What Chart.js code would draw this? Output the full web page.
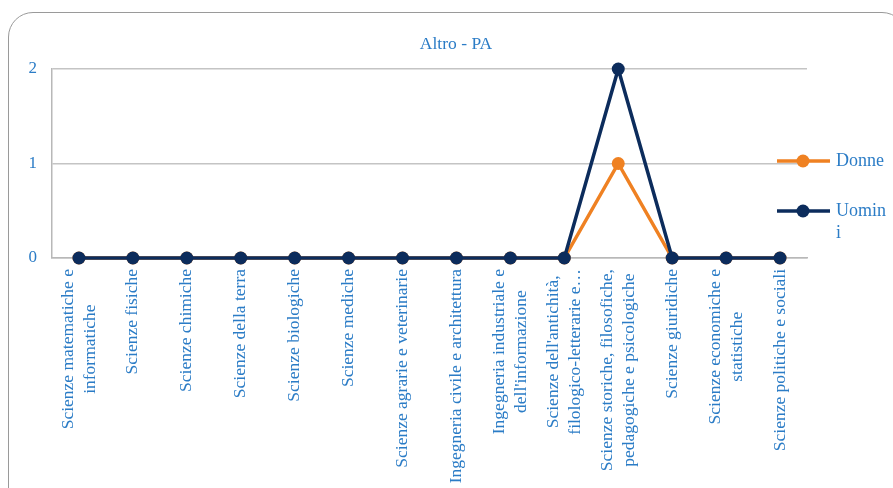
<!DOCTYPE html>
<html>
<head>
<meta charset="utf-8">
<script src="https://cdn.jsdelivr.net/npm/chart.js@4/dist/chart.umd.min.js"></script>
<style>
  html, body { margin: 0; padding: 0; background: #fff; overflow: hidden; }
  #wrap { position: relative; width: 893px; height: 488px; }
  #frame {
    position: absolute; left: 8px; top: 12px; width: 899px; height: 520px;
    border: 1px solid #9a9a9a; border-radius: 25px; box-sizing: border-box;
  }
  canvas { position: absolute; left: 0; top: 0; }
</style>
</head>
<body>
<div id="wrap">
  <div id="frame"></div>
  <canvas id="chart" width="893" height="488"></canvas>
</div>
<script>
// Categories (multi-line entries are drawn as stacked lines)
const categories = [
  ["Scienze matematiche e", "informatiche"],
  ["Scienze fisiche"],
  ["Scienze chimiche"],
  ["Scienze della terra"],
  ["Scienze biologiche"],
  ["Scienze mediche"],
  ["Scienze agrarie e veterinarie"],
  ["Ingegneria civile e architettura"],
  ["Ingegneria industriale e", "dell'informazione"],
  ["Scienze dell'antichità,", "filologico-letterarie e…"],
  ["Scienze storiche, filosofiche,", "pedagogiche e psicologiche"],
  ["Scienze giuridiche"],
  ["Scienze economiche e", "statistiche"],
  ["Scienze politiche e sociali"]
];
const donne  = [0, 0, 0, 0, 0, 0, 0, 0, 0, 0, 1, 0, 0, 0];
const uomini = [0, 0, 0, 0, 0, 0, 0, 0, 0, 0, 2, 0, 0, 0];
const yTicks = [0, 1, 2];
const seriesNames = ["Donne", ["Uomin", "i"]];
const chartTitle = "Altro - PA";

const TEXT_BLUE = "#2b7cc6";
const ORANGE = "#ef8122";
const NAVY = "#0c2c5c";
const FONT = "'Liberation Serif', 'DejaVu Serif', serif";

// Title, rotated category labels and legend drawn on top of the chart
const decorations = {
  id: "decorations",
  afterDraw(chart) {
    const ctx = chart.ctx;
    const xs = chart.scales.x;
    ctx.save();
    ctx.fillStyle = TEXT_BLUE;

    // title
    ctx.font = "17.5px " + FONT;
    ctx.textAlign = "center";
    ctx.textBaseline = "middle";
    ctx.fillText(chartTitle, 456, 44);

    // category labels, rotated, lines centred on each other
    ctx.font = "17.5px " + FONT;
    const lh = 22;
    const top = chart.chartArea.bottom + 11;
    categories.forEach((lines, i) => {
      const x = xs.getPixelForValue(i);
      const maxW = Math.max(...lines.map(l => ctx.measureText(l).width));
      ctx.save();
      ctx.translate(x, top);
      ctx.rotate(-Math.PI / 2);
      ctx.textAlign = "center";
      ctx.textBaseline = "middle";
      lines.forEach((l, k) => {
        ctx.fillText(l, -maxW / 2, (k - (lines.length - 1) / 2) * lh);
      });
      ctx.restore();
    });

    // legend
    const items = [
      { color: ORANGE, label: seriesNames[0], y: 161 },
      { color: NAVY, label: seriesNames[1], y: 211 }
    ];
    items.forEach(it => {
      ctx.strokeStyle = it.color;
      ctx.lineWidth = 3.5;
      ctx.beginPath();
      ctx.moveTo(777, it.y);
      ctx.lineTo(830, it.y);
      ctx.stroke();
      ctx.fillStyle = it.color;
      ctx.beginPath();
      ctx.arc(803, it.y, 6.5, 0, Math.PI * 2);
      ctx.fill();
      ctx.fillStyle = TEXT_BLUE;
      ctx.font = "18px " + FONT;
      ctx.textAlign = "left";
      ctx.textBaseline = "middle";
      const lines = Array.isArray(it.label) ? it.label : [it.label];
      lines.forEach((l, k) => ctx.fillText(l, 836, it.y + k * 22));
    });
    ctx.restore();
  }
};

new Chart(document.getElementById("chart"), {
  type: "line",
  data: {
    labels: categories,
    datasets: [
      {
        label: "Donne",
        data: donne,
        borderColor: ORANGE,
        backgroundColor: ORANGE,
        borderWidth: 3.5,
        pointRadius: 6.5,
        pointHoverRadius: 6.5,
        pointBorderWidth: 0,
        tension: 0,
        clip: false,
        order: 1
      },
      {
        label: "Uomini",
        data: uomini,
        borderColor: NAVY,
        backgroundColor: NAVY,
        borderWidth: 3.5,
        pointRadius: 6.5,
        pointHoverRadius: 6.5,
        pointBorderWidth: 0,
        tension: 0,
        clip: false,
        order: 0
      }
    ]
  },
  options: {
    responsive: false,
    animation: false,
    events: [],
    layout: { padding: { top: 69, right: 86, left: 0, bottom: 0 } },
    plugins: {
      legend: { display: false },
      title: { display: false },
      tooltip: { enabled: false }
    },
    scales: {
      x: {
        type: "category",
        offset: true,
        grid: { display: false, drawTicks: false },
        border: { display: true, color: "#b8b8b8", width: 1.5 },
        ticks: { display: false },
        afterFit(s) { s.height = 230; }
      },
      y: {
        min: 0,
        max: 2,
        afterBuildTicks(s) { s.ticks = yTicks.map(v => ({ value: v })); },
        grid: { color: "#c4c4c4", lineWidth: 1.5, drawTicks: false },
        border: { display: true, color: "#b8b8b8", width: 1.5 },
        ticks: {
          color: TEXT_BLUE,
          font: { family: FONT, size: 17 },
          padding: 15
        },
        afterFit(s) { s.width = 52; }
      }
    }
  },
  plugins: [decorations]
});
</script>
</body>
</html>
